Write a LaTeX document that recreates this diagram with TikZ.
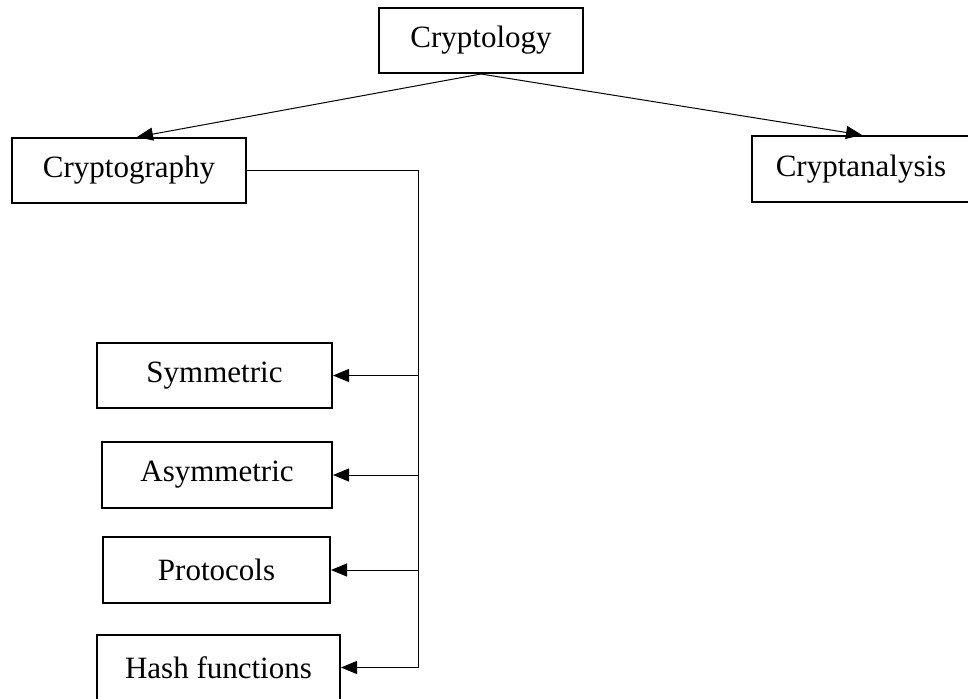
\documentclass[tikz,border=0pt]{standalone}
\usepackage{fontspec}
\setmainfont{Liberation Serif}
\usetikzlibrary{arrows.meta,calc}
\begin{document}
\begin{tikzpicture}[x=1pt,y=-1pt,
  box/.style={draw,line width=2pt,inner sep=0pt,font=\fontsize{31}{36}\selectfont},
  conn/.style={line width=1pt},
  arr/.style={line width=1pt,-{Triangle[length=16pt,width=13pt]}}]
\useasboundingbox (0,0) rectangle (968,698);
\node[box,minimum width=204pt,minimum height=65pt] (cryptology) at (481,40.5) {Cryptology};
\node[box,minimum width=234pt,minimum height=65pt] (cryptography) at (129,170.5) {Cryptography};
\node[box,minimum width=218pt,minimum height=66pt] (cryptanalysis) at (861,169) {Cryptanalysis};
\node[box,minimum width=235pt,minimum height=65pt] (symmetric) at (214.5,375.5) {Symmetric};
\node[box,minimum width=230pt,minimum height=66pt] (asymmetric) at (217,475) {Asymmetric};
\node[box,minimum width=227pt,minimum height=66pt] (protocols) at (216.5,570) {Protocols};
\node[box,minimum width=243pt,minimum height=65pt] (hash) at (218.5,667.5) {Hash functions};
\coordinate (bus) at (418,0);
\draw[arr] (cryptology.south) -- ($(cryptography.north)+(8,0)$);
\draw[arr] (cryptology.south) -- ($(cryptanalysis.north)+(1,0)$);
\draw[conn] (cryptography.east) -- (cryptography.east -| bus) -- (hash.east -| bus);
\draw[arr] (symmetric.east -| bus) -- (symmetric.east);
\draw[arr] (asymmetric.east -| bus) -- (asymmetric.east);
\draw[arr] (protocols.east -| bus) -- (protocols.east);
\draw[arr] (hash.east -| bus) -- (hash.east);
\end{tikzpicture}
\end{document}
